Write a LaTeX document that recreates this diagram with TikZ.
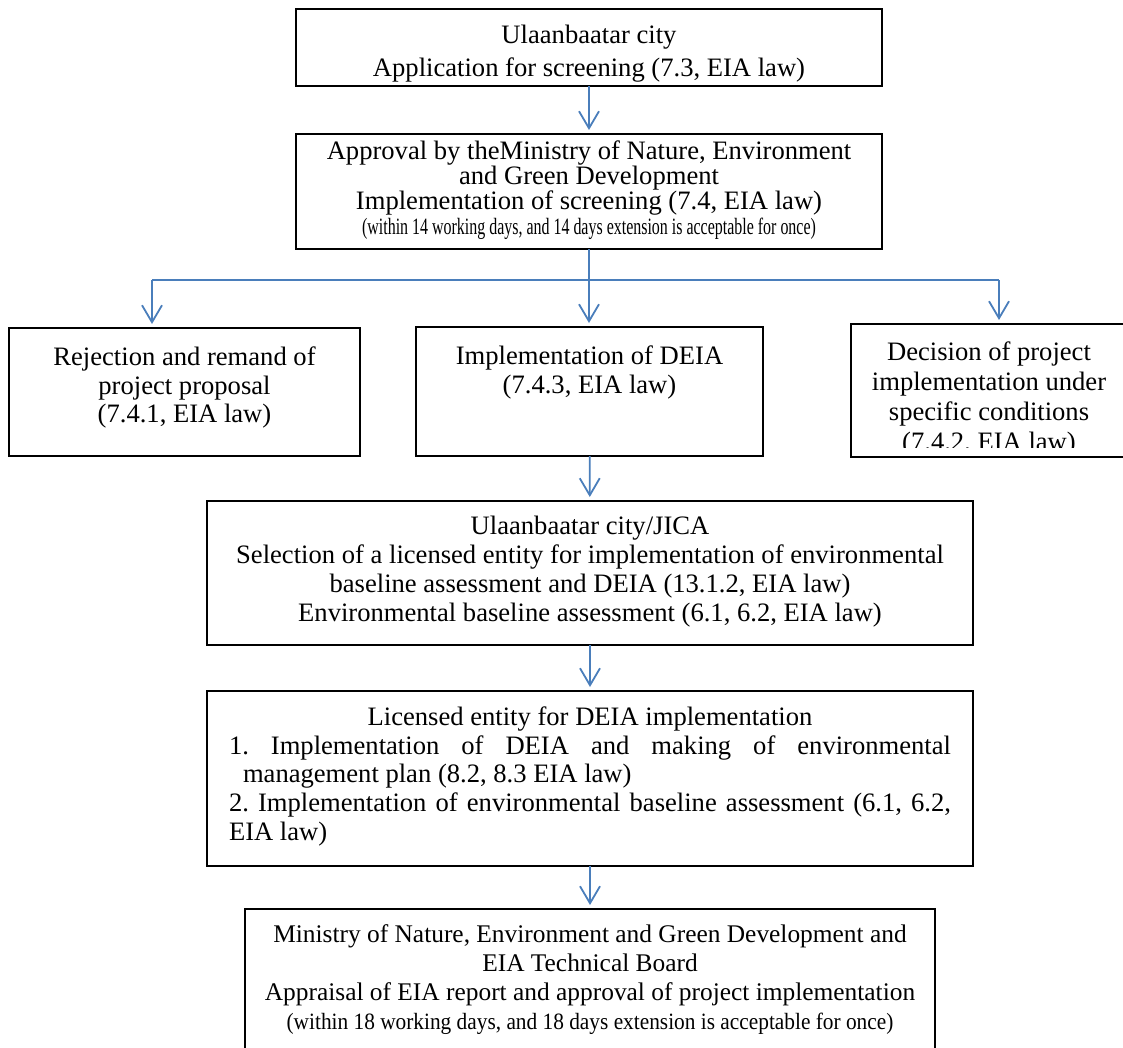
\documentclass[tikz,border=0pt]{standalone}
\usepackage{fontspec}
\setmainfont{Liberation Serif}
\usepackage{graphicx}
\usetikzlibrary{arrows.meta}

\definecolor{flowblue}{RGB}{74,126,187}
\frenchspacing
\newcommand{\boxbody}[5]{\parbox[c][#2][t]{#1}{\vspace*{#3}\fontsize{13.3pt}{#4}\selectfont\centering #5}}

\begin{document}
\begin{tikzpicture}[x=0.5pt,y=-0.5pt,
		stage/.style={draw=black,line width=0.75pt,fill=white,inner sep=0pt,outer sep=0pt},
		flowline/.style={draw=flowblue,line width=0.9pt},
		flow/.style={flowline,-{Straight Barb[length=8.5pt,width=10pt]},shorten >=2pt}]
		\useasboundingbox (0,0) rectangle (1123,1048);
		\clip (0,0) rectangle (1123,1048);
		
		\node[stage] (city) at (589,47.5) {\boxbody{293pt}{38.5pt}{8pt}{16.5pt}{Ulaanbaatar city\\Application for screening (7.3, EIA law)}};
		\node[stage] (screen) at (589,191.5) {\boxbody{293pt}{57.5pt}{3.5pt}{12.5pt}{Approval by theMinistry of Nature, Environment\\and Green Development\\Implementation of screening (7.4, EIA law)\\\scalebox{0.6}[0.88]{(within 14 working days, and 14 days extension is acceptable for once)}}};
		
		\node[stage] (reject) at (184.5,392) {\boxbody{175.5pt}{64pt}{9.5pt}{14.25pt}{Rejection and remand of\\project proposal\\(7.4.1, EIA law)}};
		\node[stage] (deia) at (589.5,391.5) {\boxbody{173.5pt}{64.5pt}{9.5pt}{14.25pt}{Implementation of DEIA\\(7.4.3, EIA law)}};
		\node[stage,minimum width=138pt,minimum height=66.5pt,
			path picture={
				\clip (path picture bounding box.north west) rectangle ([yshift=5pt]path picture bounding box.south east);
				\node[anchor=north,inner sep=0pt] at (path picture bounding box.north) {\boxbody{138pt}{80pt}{9pt}{15pt}{Decision of project\\implementation under\\specific conditions\\(7.4.2, EIA law)}};
			}] (cond) at (989,390.5) {};
		
		\node[stage] (select) at (590,573) {\boxbody{383pt}{72pt}{7.5pt}{14.5pt}{Ulaanbaatar city/JICA\\Selection of a licensed entity for implementation of environmental\\baseline assessment and DEIA (13.1.2, EIA law)\\Environmental baseline assessment (6.1, 6.2, EIA law)}};
		\node[stage] (entity) at (590,778.5) {\boxbody{383pt}{87.5pt}{8pt}{14.3pt}{Licensed entity for DEIA implementation\\
				\makebox[361pt][s]{1. Implementation of DEIA and making of environmental}\\
				\makebox[361pt][l]{\hspace*{7pt}management plan (8.2, 8.3 EIA law)}\\
				\makebox[361pt][s]{2. Implementation of environmental baseline assessment (6.1, 6.2,}\\
				\makebox[361pt][l]{EIA law)}}};
		\node[stage] (board) at (590,989.5) {\boxbody{345pt}{80.5pt}{8pt}{14.5pt}{\fontsize{12.7pt}{14.5pt}\selectfont Ministry of Nature, Environment and Green Development and\\EIA Technical Board\\Appraisal of EIA report and approval of project implementation\\\scalebox{0.84}[0.92]{(within 18 working days, and 18 days extension is acceptable for once)}}};
		
		\coordinate (fork) at (589,280);
		\coordinate (forkL) at (152,280);
		\coordinate (forkR) at (999,280);
		
		\draw[flow] (city) -- (screen);
		\draw[flowline] (screen.south) -- (fork);
		\draw[flowline] (forkL) -- (forkR);
		\draw[flow] (forkL) -- (forkL |- reject.north);
		\draw[flow] (fork) -- (fork |- deia.north);
		\draw[flow] (forkR) -- (forkR |- cond.north);
		\draw[flow] (deia) -- (select);
		\draw[flow] (select) -- (entity);
		\draw[flow] (entity) -- (board);
	\end{tikzpicture}
\end{document}
